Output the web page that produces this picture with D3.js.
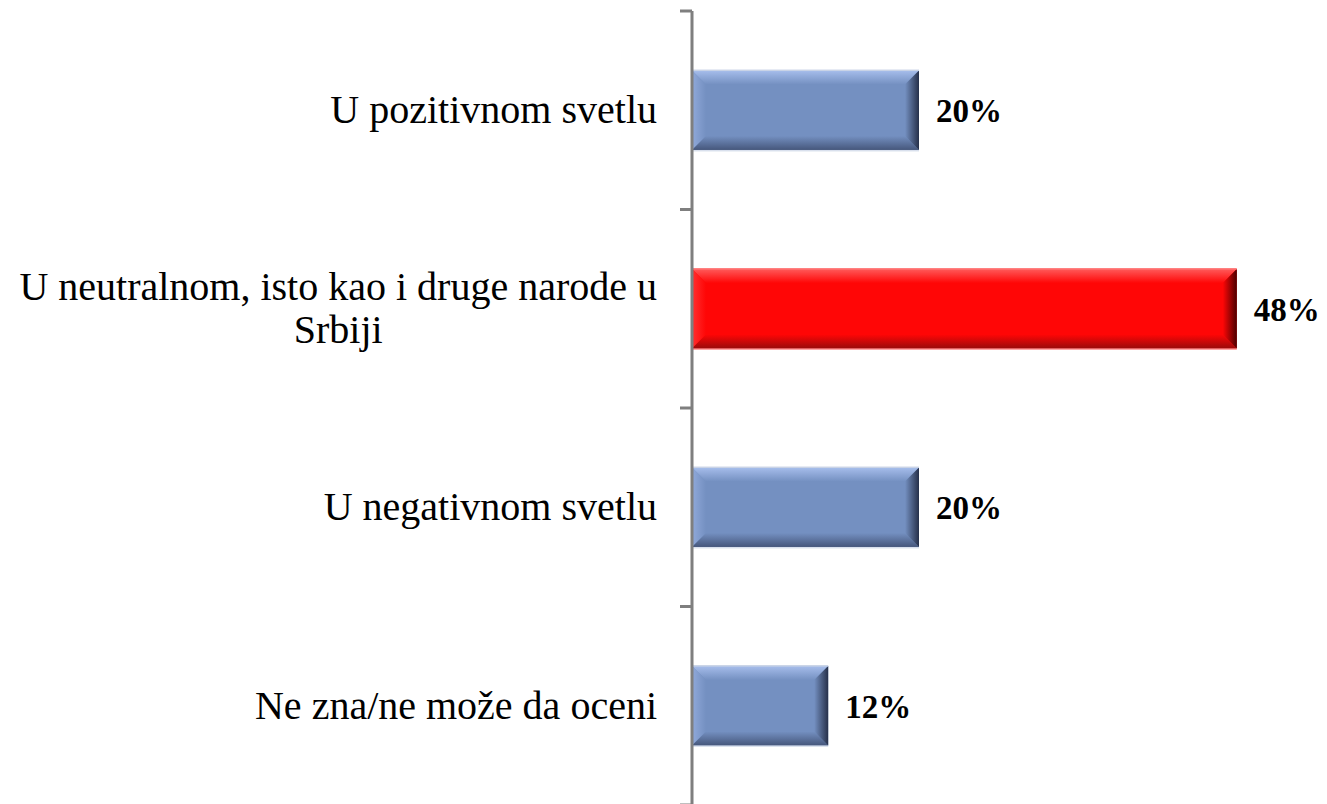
<!DOCTYPE html>
<html>
<head>
<meta charset="utf-8">
<script src="https://cdn.jsdelivr.net/npm/d3@7"></script>
<style>
  body { margin: 0; background: #fff; }
  svg { display: block; }
  .cat { font-family: "Liberation Serif", "DejaVu Serif", serif; font-size: 40px; fill: #000; }
  .val { font-family: "Liberation Serif", "DejaVu Serif", serif; font-size: 33px; font-weight: bold; fill: #000; }
</style>
</head>
<body>
<div class="chart"></div>
<script>
// data
var categories = ["U pozitivnom svetlu", "U neutralnom, isto kao i druge narode u Srbiji", "U negativnom svetlu", "Ne zna/ne može da oceni"];
var labelLines = [["U pozitivnom svetlu"], ["U neutralnom, isto kao i druge narode u", "Srbiji"], ["U negativnom svetlu"], ["Ne zna/ne može da oceni"]];
var values = [20, 48, 20, 12];
var highlight = [false, true, false, false];

var W = 1327, H = 804;
var axisX = 692;
var bevel = 14;

var svg = d3.select(".chart").append("svg")
    .attr("width", W)
    .attr("height", H);

var yscale = d3.scaleBand()
    .domain(categories)
    .range([11, 805])
    .paddingInner(0.6)
    .paddingOuter(0.3);

var xscale = d3.scaleLinear().domain([0, 50]).range([axisX, axisX + 567.5]);

// colour sets for the bevelled bars
var palette = {
    blue: { name: "blue", face: "#7490c1", top: "#a6bdeb", left: "#90a9da", bottom: "#46577c", right: "#26304a", edge: "#c9d3e6" },
    red:  { name: "red", face: "#ff0606", top: "#ff5a5a", left: "#ff3030", bottom: "#9a0a0a", right: "#4a0000", edge: "#ff7a7a" }
};

var defs = svg.append("defs");
function grad(id, x1, y1, x2, y2, c1, c2) {
    var g = defs.append("linearGradient").attr("id", id)
        .attr("x1", x1).attr("y1", y1).attr("x2", x2).attr("y2", y2);
    g.append("stop").attr("offset", "0%").attr("stop-color", c1);
    g.append("stop").attr("offset", "100%").attr("stop-color", c2);
}
Object.keys(palette).forEach(function(k) {
    var p = palette[k];
    grad(k + "-top", 0, 0, 0, 1, p.top, p.face);
    grad(k + "-left", 0, 0, 1, 0, p.left, p.face);
    grad(k + "-bottom", 0, 1, 0, 0, p.bottom, p.face);
    grad(k + "-right", 1, 0, 0, 0, p.right, p.face);
});

var bars = svg.append("g");

categories.forEach(function(c, i) {
    var p = highlight[i] ? palette.red : palette.blue;
    var x0 = xscale(0), x1 = xscale(values[i]);
    var y0 = yscale(c), y1 = y0 + yscale.bandwidth();
    var g = bars.append("g");
    g.append("rect")
        .attr("x", x0).attr("y", y0)
        .attr("width", x1 - x0).attr("height", y1 - y0)
        .attr("fill", p.face);
    // top
    g.append("polygon")
        .attr("points", [[x0, y0], [x1, y0], [x1 - bevel, y0 + bevel], [x0 + bevel, y0 + bevel]].join(" "))
        .attr("fill", "url(#" + p.name + "-top)");
    // left
    g.append("polygon")
        .attr("points", [[x0, y0], [x0 + bevel, y0 + bevel], [x0 + bevel, y1 - bevel], [x0, y1]].join(" "))
        .attr("fill", "url(#" + p.name + "-left)");
    // bottom
    g.append("polygon")
        .attr("points", [[x0, y1], [x0 + bevel, y1 - bevel], [x1 - bevel, y1 - bevel], [x1, y1]].join(" "))
        .attr("fill", "url(#" + p.name + "-bottom)");
    // right
    g.append("polygon")
        .attr("points", [[x1, y0], [x1, y1], [x1 - bevel, y1 - bevel], [x1 - bevel, y0 + bevel]].join(" "))
        .attr("fill", "url(#" + p.name + "-right)");
    g.append("rect")
        .attr("x", x0).attr("y", y0 - 1)
        .attr("width", x1 - x0).attr("height", 1.5)
        .attr("fill", p.edge);
    g.append("rect")
        .attr("x", x0).attr("y", y1)
        .attr("width", x1 - x0).attr("height", 1.5)
        .attr("fill", p.edge).attr("opacity", 0.7);

    // value label
    svg.append("text")
        .attr("class", "val")
        .attr("x", x1 + 17)
        .attr("y", y0 + yscale.bandwidth() / 2 + 12)
        .text(values[i] + "%");
});

// axis
var tickPos = [11].concat(categories.map(function(c) { return yscale(c) - yscale.step() * yscale.paddingInner() / 2 + yscale.step(); }));
var ag = svg.append("g");
ag.append("line")
    .attr("x1", axisX).attr("x2", axisX)
    .attr("y1", 11).attr("y2", 805)
    .attr("stroke", "#7f7f7f").attr("stroke-width", 3);
ag.selectAll(".tick")
    .data(tickPos)
    .enter()
    .append("line")
    .attr("x1", axisX - 12).attr("x2", axisX)
    .attr("y1", function(d) { return d; })
    .attr("y2", function(d) { return d; })
    .attr("stroke", "#7f7f7f").attr("stroke-width", 3);

// category labels
var labelRight = 657;
var lineH = 43;
categories.forEach(function(c, i) {
    var lines = labelLines[i];
    var cy = yscale(c) + yscale.bandwidth() / 2;
    var t = svg.append("text")
        .attr("class", "cat")
        .attr("text-anchor", "middle");
    var spans = lines.map(function(l, j) {
        return t.append("tspan")
            .attr("y", cy + 13 + (j - (lines.length - 1) / 2) * lineH)
            .text(l);
    });
    var maxW = d3.max(spans, function(s) { return s.node().getComputedTextLength(); });
    spans.forEach(function(s) { s.attr("x", labelRight - maxW / 2); });
});
</script>
</body>
</html>
